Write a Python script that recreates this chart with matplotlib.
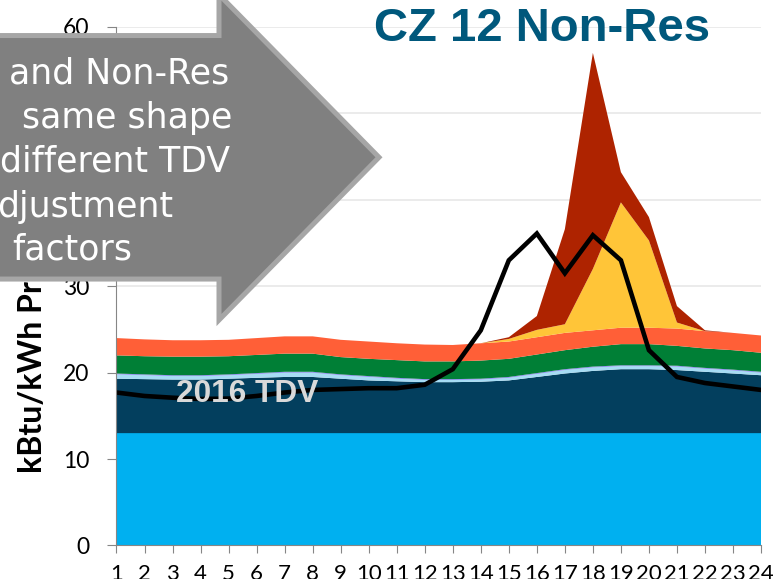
import matplotlib
matplotlib.use("Agg")
import matplotlib.pyplot as plt
from matplotlib.patches import FancyArrow

# hourly values (layer thicknesses, stacked from the bottom)
hours = list(range(1, 25))
base = [13.0] * 24
navy = [6.3, 6.25, 6.2, 6.2, 6.3, 6.4, 6.5, 6.5, 6.3, 6.1, 6.0, 5.9,
        5.9, 5.95, 6.1, 6.5, 6.9, 7.2, 7.4, 7.4, 7.3, 7.1, 6.9, 6.7]
light_blue = [0.5, 0.45, 0.4, 0.4, 0.4, 0.45, 0.5, 0.5, 0.4, 0.4, 0.3, 0.25,
              0.25, 0.25, 0.3, 0.35, 0.4, 0.4, 0.35, 0.35, 0.4, 0.35, 0.35, 0.3]
purple = [0.1] * 24
green = [2.1, 2.1, 2.15, 2.15, 2.1, 2.1, 2.1, 2.1, 2.0, 2.0, 2.05, 2.05,
         2.05, 2.1, 2.1, 2.15, 2.2, 2.3, 2.45, 2.45, 2.3, 2.25, 2.25, 2.2]
orange = [2.0, 1.95, 1.9, 1.9, 1.9, 1.95, 2.0, 2.0, 2.0, 2.0, 1.95, 1.95,
          1.9, 2.0, 2.0, 2.0, 2.0, 1.9, 1.9, 1.9, 2.0, 2.0, 2.0, 2.0]
yellow = [0, 0, 0, 0, 0, 0, 0, 0, 0, 0, 0, 0,
          0, 0, 0.3, 0.85, 1.0, 7.1, 14.5, 10.1, 0.7, 0, 0, 0]
red = [0, 0, 0, 0, 0, 0, 0, 0, 0, 0, 0, 0,
       0, 0, 0.2, 1.6, 11.0, 25.0, 3.5, 2.7, 1.9, 0.1, 0, 0]
tdv_2016 = [17.7, 17.3, 17.1, 16.95, 17.0, 17.3, 17.7, 18.0, 18.1, 18.2, 18.2, 18.6,
            20.4, 24.9, 33.0, 36.1, 31.5, 35.9, 33.0, 22.6, 19.5, 18.8, 18.4, 18.0]
# 40 and 50 sit under the arrow
y_ticks = [0, 10, 20, 30, 40, 50, 60]
y_labels = ["0", "10", "20", "30", "", "", "60"]

layer_colors = ["#00B0F0", "#033F5E", "#A6DCF4", "#8A8AF2",
                "#007F36", "#FF5F37", "#FFC538", "#AE2300"]

fig = plt.figure(figsize=(7.73, 5.79), dpi=100)
ax = fig.add_axes([0.1507, 0.0579, 0.8338, 0.8955])

ax.stackplot(hours, base, navy, light_blue, purple, green, orange, yellow, red,
             colors=layer_colors, linewidth=0)
ax.plot(hours, tdv_2016, color="black", lw=3.3, solid_joinstyle="miter")

ax.set_xlim(1, 24)
ax.set_ylim(0, 60)
ax.set_xticks(hours)
ax.set_yticks(y_ticks)
ax.set_yticklabels(y_labels)
ax.yaxis.grid(True, color="#E8E8E8", lw=1.2)
ax.set_axisbelow(True)
for s in ["top", "right"]:
    ax.spines[s].set_visible(False)
for s in ["left", "bottom"]:
    ax.spines[s].set_color("#868686")
ax.tick_params(axis="y", length=6.5, pad=13, color="#868686", labelsize=16.5)
ax.tick_params(axis="x", length=5.5, pad=8, color="#868686", labelsize=16)
for lab in ax.get_xticklabels() + ax.get_yticklabels():
    lab.set_family("Lato")

ax.text(3.14, 16.6, "2016 TDV", color="#D9D9D9", fontsize=22.8,
        fontweight="bold", family="Liberation Sans", ha="left", va="baseline")

fig.text(542.5 / 773, 1 - 40.7 / 579, "CZ 12 Non-Res", color="#00587C",
         fontsize=34, fontweight="bold", family="Liberation Sans",
         ha="center", va="baseline")

fig.text(33 / 773, 1 - 473 / 579, "kBtu/kWh Pr", rotation=90, fontsize=23,
         fontweight="bold", family="Lato", ha="center", va="bottom")

# big callout arrow on top of everything
x0 = -20 / 773
arrow = FancyArrow(x0, 1 - 157.3 / 579, 379 / 773 - x0, 0,
                   width=243.5 / 579, head_width=325.4 / 579,
                   head_length=160 / 773, length_includes_head=True,
                   transform=fig.transFigure, facecolor="#808080",
                   edgecolor="#A6A6A6", lw=3.6, zorder=10)
fig.add_artist(arrow)

lines = [("and Non-Res", 229, 83.3), ("same shape", 232, 128.3),
         ("different TDV", 230, 171.7), ("djustment", 173, 216.7),
         ("factors", 132, 260)]
for txt, xr, yb in lines:
    fig.text(xr / 773, 1 - yb / 579, txt, color="white", fontsize=25,
             family="DejaVu Sans", ha="right", va="baseline", zorder=11)

fig.savefig("out.png", dpi=100)
